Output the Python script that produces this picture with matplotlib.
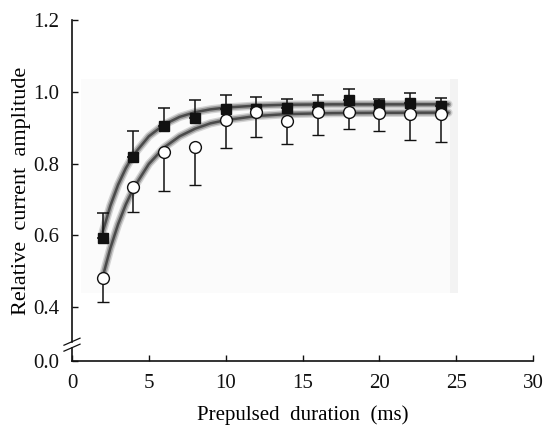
import matplotlib
matplotlib.use("Agg")
import matplotlib.pyplot as plt
from matplotlib.patches import Rectangle

plt.rcParams['font.family'] = ['Liberation Serif', 'DejaVu Serif']

# prepulse durations (ms)
durations = [2, 4, 6, 8, 10, 12, 14, 16, 18, 20, 22, 24]

# filled squares, mean and upper error
sq_mean = [0.593, 0.819, 0.906, 0.926, 0.951, 0.952, 0.954, 0.958, 0.978, 0.963, 0.970, 0.960]
sq_err = [0.070, 0.071, 0.050, 0.051, 0.040, 0.034, 0.026, 0.032, 0.031, 0.018, 0.028, 0.024]

# open circles, mean and lower error
ci_mean = [0.482, 0.736, 0.831, 0.847, 0.921, 0.944, 0.919, 0.943, 0.943, 0.942, 0.938, 0.937]
ci_err = [0.069, 0.070, 0.106, 0.107, 0.077, 0.070, 0.064, 0.063, 0.047, 0.052, 0.071, 0.076]

# fitted curves
fit_x = [2, 2.5, 3, 3.5, 4, 5, 6, 7, 8, 9, 10, 12, 14, 17, 20, 24.5]
fit_sq = [0.610, 0.683, 0.741, 0.787, 0.824, 0.876, 0.909, 0.930, 0.943, 0.951, 0.956,
          0.9615, 0.964, 0.965, 0.965, 0.965]
fit_ci = [0.4845, 0.565, 0.631, 0.686, 0.731, 0.799, 0.845, 0.876, 0.897, 0.912, 0.921,
          0.9325, 0.938, 0.9406, 0.9415, 0.942]

yticks = [0.25, 0.4, 0.6, 0.8, 1.0, 1.2]
ytick_labels = ["0.0", "0.4", "0.6", "0.8", "1.0", "1.2"]
xticks = [0, 5, 10, 15, 20, 25, 30]

fig = plt.figure(figsize=(5.48, 4.29), dpi=100)
ax = fig.add_axes([72 / 548, 1 - 361 / 429, 461 / 548, 341 / 429])

# faint scanned background patch
ax.add_patch(Rectangle((0.57, 0.44), 24.5, 0.596, facecolor='#fbfbfb', edgecolor='none', zorder=0))
ax.add_patch(Rectangle((24.6, 0.44), 0.5, 0.596, facecolor='#f3f3f3', edgecolor='none', zorder=0))

# blurry gray fit lines
for fy in (fit_sq, fit_ci):
    ax.plot(fit_x, fy, color='#d4d4d4', lw=6, solid_capstyle='round', zorder=1)
    ax.plot(fit_x, fy, color='#9c9c9c', lw=4, solid_capstyle='round', zorder=1)
    ax.plot(fit_x, fy, color='#4a4a4a', lw=1.8, solid_capstyle='round', zorder=1)

ax.errorbar(durations, sq_mean, yerr=[[0] * len(sq_err), sq_err], fmt='s', color='#111111',
            ms=6.5, ecolor='#111111', elinewidth=1.1, capsize=4, capthick=1.1, zorder=3)
ax.errorbar(durations, ci_mean, yerr=[ci_err, [0] * len(ci_err)], fmt='o', mfc='white',
            mec='#111111', mew=1.0, ms=8.5, ecolor='#111111', elinewidth=1.1, capsize=4,
            capthick=1.1, zorder=4)

ax.set_xlim(0, 30)
ax.set_ylim(0.25, 1.2)
ax.set_xticks(xticks)
ax.set_yticks(yticks)
ax.set_yticklabels(ytick_labels)
ax.tick_params(direction='in', length=4, width=1, labelsize=15, colors='#111111')
ax.tick_params(axis='y', pad=9)
ax.tick_params(axis='x', pad=9)

for s in ('top', 'right'):
    ax.spines[s].set_visible(False)
for s in ('left', 'bottom'):
    ax.spines[s].set_linewidth(1.2)
    ax.spines[s].set_color('#111111')

# axis break on y
ax.spines['left'].set_bounds(0.304, 1.2)
yt = ax.get_yaxis_transform()
ax.plot([0, 0], [0.25, 0.2867], color='#111111', lw=1.2, transform=yt, clip_on=False)
ax.plot([-0.0174, 0.0174], [0.294, 0.3136], color='#111111', lw=0.9, transform=yt, clip_on=False)
ax.plot([-0.0174, 0.0174], [0.2774, 0.2969], color='#111111', lw=0.9, transform=yt, clip_on=False)

ax.set_xlabel("Prepulsed  duration  (ms)", fontsize=15, labelpad=9)
ax.set_ylabel("Relative  current  amplitude", fontsize=16, labelpad=2)

fig.savefig("out.png", dpi=100)
